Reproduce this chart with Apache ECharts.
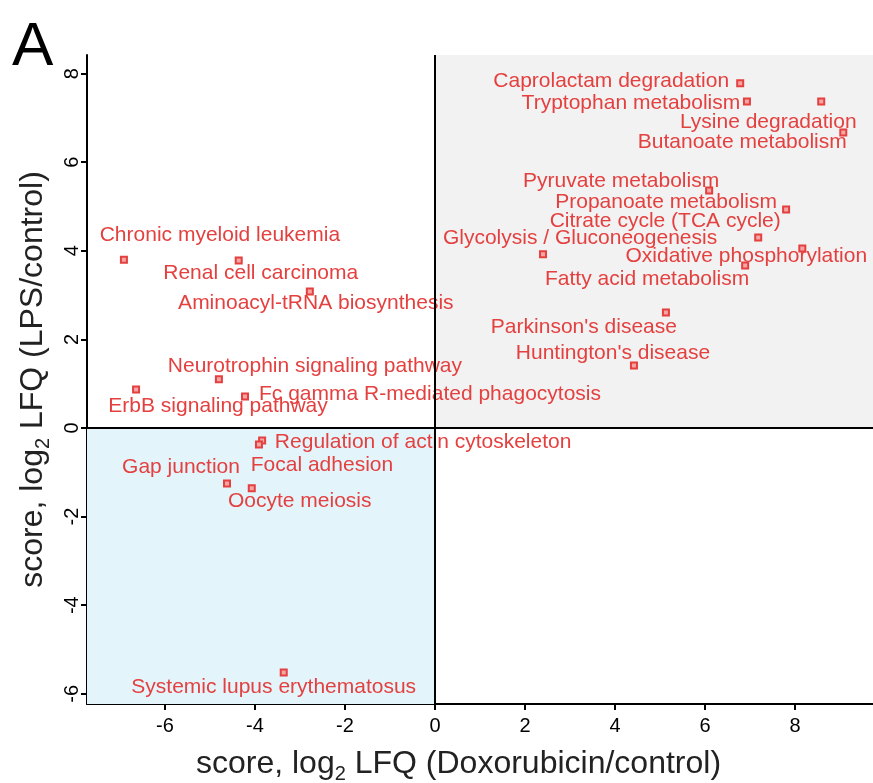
<!DOCTYPE html>
<html>
<head>
<meta charset="utf-8">
<script src="https://cdn.jsdelivr.net/npm/echarts@6/dist/echarts.min.js"></script>
<style>html,body{margin:0;padding:0;background:#fff;}#c{width:873px;height:783px;}</style>
</head>
<body>
<div id="c"></div>
<script>
// ---- data ----
const names = [
  "Caprolactam degradation", "Tryptophan metabolism", "Lysine degradation", "Butanoate metabolism",
  "Pyruvate metabolism", "Propanoate metabolism", "Citrate cycle (TCA cycle)", "Glycolysis / Gluconeogenesis",
  "Oxidative phosphorylation", "Fatty acid metabolism", "Parkinson's disease", "Huntington's disease",
  "Chronic myeloid leukemia", "Renal cell carcinoma", "Aminoacyl-tRNA biosynthesis", "Neurotrophin signaling pathway",
  "ErbB signaling pathway", "Fc gamma R-mediated phagocytosis", "Regulation of actin cytoskeleton", "Focal adhesion",
  "Gap junction", "Oocyte meiosis", "Systemic lupus erythematosus"
];
const xValues = [6.78, 6.93, 8.58, 9.07, 6.09, 7.80, 7.18, 2.40, 8.16, 6.89, 5.13, 4.42,
  -6.91, -4.36, -2.78, -4.80, -6.64, -4.22, -3.84, -3.91, -4.62, -4.07, -3.36];
const yValues = [7.78, 7.37, 7.37, 6.67, 5.36, 4.93, 4.30, 3.92, 4.05, 3.67, 2.61, 1.41,
  3.80, 3.78, 3.08, 1.10, 0.87, 0.71, -0.28, -0.37, -1.25, -1.36, -5.52];
const xTicks = [-6, -4, -2, 0, 2, 4, 6, 8];
const yTicks = [-6, -4, -2, 0, 2, 4, 6, 8];

// ---- layout (label placement relative to point, pixels) ----
const labelOffsets = [
  [-129, -2], [-116, 2], [-53, 21], [-101, 10],
  [-88, -9], [-120, -7], [-93, -16], [37, -16],
  [-56, 8], [-98, 14], [-82, 15], [-21, -12],
  [96, -24], [22, 13], [6, 12], [96, -13],
  [82, 17], [185, -2], [161, 2], [63, 21],
  [-46, -16], [48, 13], [-10, 15]
];

const xMin = -7.73, xMax = 9.73, yMin = -6.23, yMax = 8.42;
const red = '#e4403f';
const font = 'Liberation Sans, Arial, sans-serif';

const points = names.map((n, i) => ({ name: n, value: [xValues[i], yValues[i]] }));

const chart = echarts.init(document.getElementById('c'), null, { renderer: 'canvas' });
chart.setOption({
  animation: false,
  backgroundColor: '#fff',
  grid: { left: 87, top: 55, right: 0, bottom: 79, containLabel: false, outerBoundsMode: 'none' },
  graphic: [{
    type: 'text', left: 12, top: 17,
    style: { text: 'A', fontSize: 62, fontFamily: font, fill: '#000' }
  }],
  xAxis: {
    type: 'value', min: xMin, max: xMax,
    splitLine: { show: false },
    axisLine: { show: true, onZero: false, lineStyle: { color: '#000', width: 2 } },
    axisTick: { show: true, length: 6, customValues: xTicks, lineStyle: { color: '#000', width: 2 } },
    axisLabel: { customValues: xTicks, fontSize: 20, color: '#000', fontFamily: font, margin: 12 },
    name: 'score, log{sub|2} LFQ (Doxorubicin/control)',
    nameLocation: 'middle', nameGap: 40,
    nameTextStyle: {
      fontSize: 32, color: '#222', fontFamily: font, padding: [0, 43, 0, 0],
      rich: { sub: { fontSize: 20, color: '#222', fontFamily: font, padding: [20, 0, 0, 0] } }
    }
  },
  yAxis: {
    type: 'value', min: yMin, max: yMax,
    splitLine: { show: false },
    axisLine: { show: true, onZero: false, lineStyle: { color: '#000', width: 2 } },
    axisTick: { show: true, length: 6, customValues: yTicks, lineStyle: { color: '#000', width: 2 } },
    axisLabel: { customValues: yTicks, fontSize: 20, color: '#000', fontFamily: font, rotate: 90, margin: 5 },
    name: 'score, log{sub|2} LFQ (LPS/control)',
    nameLocation: 'middle', nameGap: 34, nameRotate: 90,
    nameTextStyle: {
      fontSize: 32, color: '#222', fontFamily: font,
      rich: { sub: { fontSize: 20, color: '#222', fontFamily: font, padding: [20, 0, 0, 0] } }
    }
  },
  series: [{
    type: 'scatter',
    symbol: 'rect',
    symbolSize: 6,
    itemStyle: { color: '#f4a5a5', borderColor: red, borderWidth: 2, opacity: 1 },
    label: {
      show: true, position: 'inside', formatter: '{b}',
      color: red, fontSize: 21, fontFamily: font, align: 'center', verticalAlign: 'middle'
    },
    labelLayout: function (p) {
      const o = labelOffsets[p.dataIndex];
      return { dx: o[0], dy: o[1], hideOverlap: false };
    },
    emphasis: { disabled: true },
    data: points,
    markArea: {
      silent: true,
      data: [
        [{ coord: [0, 0], itemStyle: { color: '#f2f2f2' } }, { coord: [xMax, yMax] }],
        [{ coord: [xMin, yMin], itemStyle: { color: '#e3f4fb' } }, { coord: [0, 0] }]
      ]
    },
    markLine: {
      silent: true, symbol: 'none', label: { show: false },
      lineStyle: { color: '#000', width: 2, type: 'solid' },
      data: [{ xAxis: 0 }, { yAxis: 0 }]
    }
  }]
});
</script>
</body>
</html>
